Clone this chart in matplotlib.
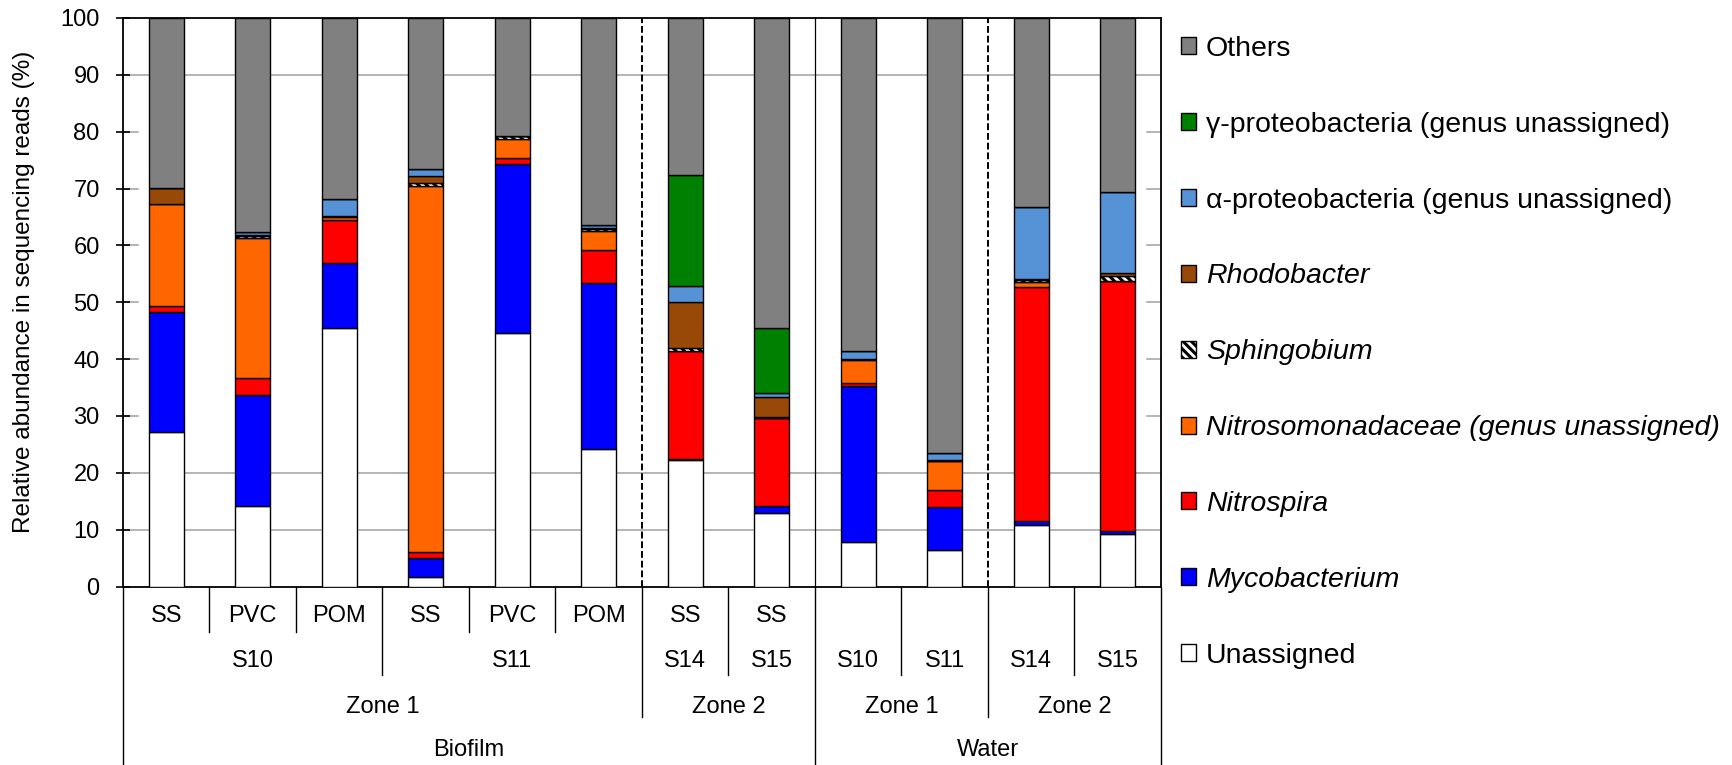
import matplotlib.pyplot as plt
import numpy as np

# Taxa percentages per sample (bottom to top of each stack)
unassigned = [27.1, 14.1, 45.4, 1.7, 44.6, 24.2, 22.2, 12.9, 7.9, 6.4, 10.8, 9.2]
mycobacterium = [21.2, 19.6, 11.5, 3.3, 29.8, 29.2, 0.3, 1.2, 27.3, 7.5, 0.7, 0.5]
nitrospira = [1.0, 3.0, 7.5, 1.1, 0.9, 5.8, 18.9, 15.5, 0.6, 3.1, 41.2, 44.0]
nitrosomonadaceae = [17.9, 24.6, 0.6, 64.3, 3.5, 3.3, 0.1, 0.1, 4.1, 5.0, 0.8, 0.1]
sphingobium = [0.1, 0.4, 0.1, 0.5, 0.4, 0.4, 0.4, 0.2, 0.1, 0.1, 0.5, 0.8]
rhodobacter = [2.8, 0.2, 0.1, 1.3, 0.1, 0.1, 8.2, 3.5, 0.1, 0.1, 0.1, 0.6]
alpha_proteo = [0.0, 0.4, 3.0, 1.2, 0.0, 0.6, 2.7, 0.6, 1.3, 1.3, 12.7, 14.2]
gamma_proteo = [0.0, 0.0, 0.0, 0.0, 0.0, 0.0, 19.5, 11.4, 0.0, 0.0, 0.0, 0.0]
others = [29.9, 37.7, 31.8, 26.6, 20.7, 36.4, 27.7, 54.6, 58.6, 76.5, 33.2, 30.6]

# x-axis label levels, one entry per bar
material = ['SS', 'PVC', 'POM', 'SS', 'PVC', 'POM', 'SS', 'SS', '', '', '', '']
site = ['S10', 'S10', 'S10', 'S11', 'S11', 'S11', 'S14', 'S15', 'S10', 'S11', 'S14', 'S15']
zone = ['Zone 1'] * 6 + ['Zone 2'] * 2 + ['Zone 1'] * 2 + ['Zone 2'] * 2
sample_type = ['Biofilm'] * 8 + ['Water'] * 4

series = [
    ('Unassigned', unassigned, 'white', False),
    ('Mycobacterium', mycobacterium, '#0000FF', True),
    ('Nitrospira', nitrospira, '#FF0000', True),
    ('Nitrosomonadaceae (genus unassigned)', nitrosomonadaceae, '#FF6600', True),
    ('Sphingobium', sphingobium, 'hatch', True),
    ('Rhodobacter', rhodobacter, '#984807', True),
    ('α-proteobacteria (genus unassigned)', alpha_proteo, '#5592D6', False),
    ('γ-proteobacteria (genus unassigned)', gamma_proteo, '#008000', False),
    ('Others', others, '#808080', False),
]

plt.rcParams['font.family'] = ['Liberation Sans', 'DejaVu Sans']
plt.rcParams['hatch.linewidth'] = 2.2

fig = plt.figure(figsize=(17.33, 7.65), dpi=100)
ax = fig.add_axes([123 / 1733, 1 - 586.5 / 765, 1038 / 1733, 568.5 / 765])

x = np.arange(len(site))
bottom = np.zeros(len(x))
handles = []
for name, vals, col, ital in series:
    vals = np.array(vals)
    if col == 'hatch':
        b = ax.bar(x, vals, 0.4, bottom=bottom, color='white', edgecolor='black',
                   hatch='\\\\\\\\', linewidth=1.0, zorder=3, label=name)
    else:
        b = ax.bar(x, vals, 0.4, bottom=bottom, color=col, edgecolor='black',
                   linewidth=1.0, zorder=3, label=name)
    handles.append(b)
    bottom += vals

ax.set_xlim(-0.5, len(x) - 0.5)
ax.set_ylim(0, 100)
ax.set_yticks(np.arange(0, 101, 10))
ax.tick_params(axis='y', direction='inout', length=9.5, width=1.2, labelsize=17, pad=12)
ax.set_xticks([])
for s in ax.spines.values():
    s.set_linewidth(1.3)

# horizontal gridlines: full at 10, 20, 90, short stubs at the axes edges elsewhere
for g in range(10, 100, 10):
    if g in (10, 20, 90):
        ax.axhline(g, color='#A0A0A0', lw=1.1, zorder=1)
    else:
        ax.axhline(g, xmin=0, xmax=0.0142, color='#A0A0A0', lw=1.1, zorder=1)
        ax.axhline(g, xmin=0.9865, xmax=1, color='#A0A0A0', lw=1.1, zorder=1)

# zone and sample-type dividers inside the plot
ax.axvline(5.5, color='black', lw=1.4, ls=(0, (3.5, 1.5)), zorder=4)
ax.axvline(9.5, color='black', lw=1.4, ls=(0, (3.5, 1.5)), zorder=4)
ax.axvline(7.5, color='black', lw=0.9, zorder=4)

# hierarchical category axis below the plot
levels = [material, site, zone, sample_type]
label_y = [-0.052, -0.131, -0.212, -0.288]
sep_end = [-0.0795, -0.1557, -0.2296, -0.32]
trans = ax.get_xaxis_transform()

def path(i, lev):
    return tuple(levels[k][i] for k in range(lev, len(levels)))

# separator lines between neighbouring bars
for i in range(len(x) - 1):
    depth = max(lev for lev in range(len(levels)) if path(i, lev) != path(i + 1, lev))
    ax.plot([i + 0.5, i + 0.5], [0, sep_end[depth]], color='black', lw=1.0,
            transform=trans, clip_on=False)
for edge in (-0.5, len(x) - 0.5):
    ax.plot([edge, edge], [0, sep_end[-1]], color='black', lw=1.0,
            transform=trans, clip_on=False)

# group labels at each level
for lev in range(len(levels)):
    start = 0
    for i in range(1, len(x) + 1):
        if i == len(x) or path(i, lev) != path(start, lev):
            txt = levels[lev][start]
            if txt:
                ax.text((start + i - 1) / 2, label_y[lev], txt, transform=trans,
                        ha='center', va='center', fontsize=17)
            start = i

fig.text(24 / 1733, 1 - 292 / 765, 'Relative abundance in sequencing reads (%)',
         rotation=90, ha='center', va='center', fontsize=17.5)

leg = ax.legend(handles[::-1], [s[0] for s in series][::-1], loc='upper left',
                bbox_to_anchor=(1181 / 1733, 1 - 36 / 765), bbox_transform=fig.transFigure,
                frameon=False, fontsize=20.5, handlelength=0.54, handleheight=0.54,
                handletextpad=0.34, labelspacing=1.75, borderpad=0, borderaxespad=0)
for txt, s in zip(leg.get_texts(), series[::-1]):
    if s[3]:
        txt.set_fontstyle('italic')

fig.savefig('out.png', dpi=100)
